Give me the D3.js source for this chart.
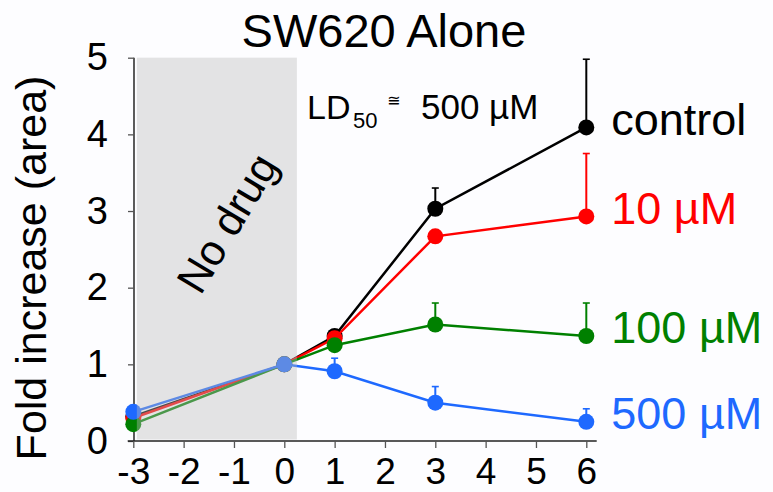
<!DOCTYPE html>
<html>
<head>
<meta charset="utf-8">
<script src="https://cdn.jsdelivr.net/npm/d3@7"></script>
<style>
  html, body { margin: 0; padding: 0; background: #fdfdff; }
  svg { display: block; font-family: Arial, "Liberation Sans", Helvetica, sans-serif; }
</style>
</head>
<body>
<svg id="chart" width="773" height="492"></svg>
<script>
// Days relative to drug addition and tick labels
const days = [-3, 0, 1, 3, 6];
const xTicks = [-3, -2, -1, 0, 1, 2, 3, 4, 5, 6];
const yTicks = [0, 1, 2, 3, 4, 5];

// Fold increase in area (mean) and upper error per dose
const controlMean = [0.32, 1, 1.37, 3.03, 4.09];
const controlErr  = [0, 0, 0.08, 0.27, 0.89];
const dose10Mean  = [0.30, 1, 1.34, 2.67, 2.93];
const dose10Err   = [0, 0, 0.06, 0.05, 0.82];
const dose100Mean = [0.22, 1, 1.25, 1.52, 1.37];
const dose100Err  = [0, 0, 0, 0.28, 0.43];
const dose500Mean = [0.38, 1, 0.91, 0.50, 0.25];
const dose500Err  = [0, 0, 0.17, 0.21, 0.17];

const seriesNames  = ["control", "10 µM", "100 µM", "500 µM"];
const seriesColors = ["#000000", "#ff0000", "#008000", "#1e69ff"];

// Untreated window shaded on the x axis
const noDrugSpan = [-2.93, 0.25];

const series = [
  { name: seriesNames[0], color: seriesColors[0], mean: controlMean, err: controlErr },
  { name: seriesNames[1], color: seriesColors[1], mean: dose10Mean,  err: dose10Err },
  { name: seriesNames[2], color: seriesColors[2], mean: dose100Mean, err: dose100Err },
  { name: seriesNames[3], color: seriesColors[3], mean: dose500Mean, err: dose500Err }
];

const svg = d3.select("#chart");

const x = d3.scaleLinear().domain([-3, 6]).range([133.3, 586.3]);
const y = d3.scaleLinear().domain([0, 5]).range([441, 57.7]);

// Title
svg.append("text")
  .attr("x", 384).attr("y", 46.5)
  .attr("text-anchor", "middle")
  .attr("font-size", 47)
  .attr("fill", "#000")
  .text("SW620 Alone");

// Y axis
const yAxis = svg.append("g")
  .attr("transform", `translate(${x(-3) + 0.7},0)`)
  .call(d3.axisLeft(y).tickValues(yTicks).tickSize(6).tickPadding(20).tickFormat(d3.format("d")));
yAxis.select(".domain").attr("stroke", "#333").attr("stroke-width", 1.6)
  .attr("d", `M0,${y(0)}V${y(5)}`);
yAxis.selectAll(".tick line").attr("stroke", "#555").attr("stroke-width", 1.3);
yAxis.selectAll(".tick text").attr("font-size", 38).attr("fill", "#000")
  .attr("font-family", "Arial, 'Liberation Sans', sans-serif");

// X axis
const xAxis = svg.append("g")
  .attr("transform", `translate(0,${y(0)})`)
  .call(d3.axisBottom(x).tickValues(xTicks).tickSize(7).tickPadding(10).tickFormat(d3.format("d")));
xAxis.select(".domain").attr("stroke", "#222").attr("stroke-width", 1.6)
  .attr("d", `M${x(-3) - 5.6},0H${x(6) + 10.4}`);
xAxis.selectAll(".tick line").attr("stroke", "#555").attr("stroke-width", 1.3);
xAxis.selectAll(".tick text").attr("font-size", 37).attr("fill", "#000")
  .attr("font-family", "Arial, 'Liberation Sans', sans-serif")
  .text(d => d < 0 ? "-" + Math.abs(d) : d);

// Y axis title
svg.append("text")
  .attr("transform", "translate(46,268) rotate(-90)")
  .attr("text-anchor", "middle")
  .attr("font-size", 43)
  .attr("fill", "#000")
  .text("Fold increase (area)");

const line = d3.line().x((d, i) => x(days[i])).y(d => y(d));

series.forEach(s => {
  const g = svg.append("g");
  g.append("path")
    .attr("d", line(s.mean))
    .attr("fill", "none")
    .attr("stroke", s.color)
    .attr("stroke-width", 2.5);

  // Upper error bars
  s.mean.forEach((m, i) => {
    if (!s.err[i]) return;
    const cx = x(days[i]);
    g.append("line")
      .attr("x1", cx).attr("x2", cx)
      .attr("y1", y(m)).attr("y2", y(m + s.err[i]))
      .attr("stroke", s.color).attr("stroke-width", 2);
    g.append("line")
      .attr("x1", cx - 3.5).attr("x2", cx + 3.5)
      .attr("y1", y(m + s.err[i])).attr("y2", y(m + s.err[i]))
      .attr("stroke", s.color).attr("stroke-width", 1.6);
  });

  g.selectAll("circle")
    .data(s.mean)
    .join("circle")
    .attr("cx", (d, i) => x(days[i]))
    .attr("cy", d => y(d))
    .attr("r", 8)
    .attr("fill", s.color);

  // Series label beside the last point
  const last = s.mean[s.mean.length - 1];
  svg.append("text")
    .attr("x", x(6) + 25)
    .attr("y", y(last) + 7.5)
    .attr("font-size", 45)
    .attr("fill", s.color)
    .text(s.name);
});

// Shaded "No drug" window, laid over the pre-treatment segments
svg.append("rect")
  .attr("x", x(noDrugSpan[0]))
  .attr("width", x(noDrugSpan[1]) - x(noDrugSpan[0]))
  .attr("y", y(5))
  .attr("height", y(0) - y(5) - 1.5)
  .attr("fill", "#bbbbbb")
  .attr("opacity", 0.4);

svg.append("text")
  .attr("transform", "translate(227,223) rotate(-59)")
  .attr("text-anchor", "middle")
  .attr("dominant-baseline", "central")
  .attr("font-size", 43)
  .attr("fill", "#000")
  .text("No drug");

// LD50 annotation
const ld = svg.append("g").attr("fill", "#000");
ld.append("text").attr("x", 307).attr("y", 119.3).attr("font-size", 34).text("LD");
ld.append("text").attr("x", 353).attr("y", 127.5).attr("font-size", 22).text("50");
ld.append("text").attr("x", 387).attr("y", 106).attr("font-size", 16)
  .attr("font-family", "'DejaVu Sans', sans-serif").text("≅");
ld.append("text").attr("x", 421).attr("y", 119.3).attr("font-size", 35).text("500 µM");
</script>
</body>
</html>
